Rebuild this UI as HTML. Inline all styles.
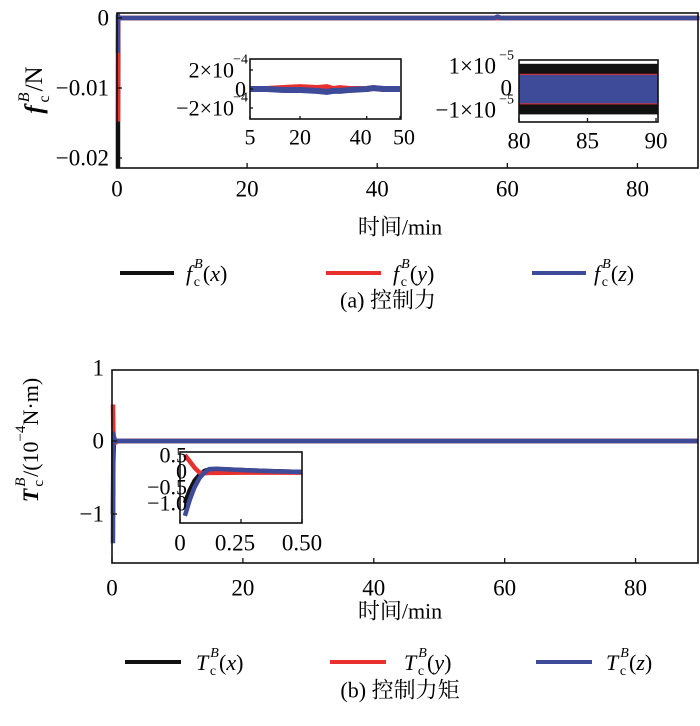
<!DOCTYPE html>
<html><head><meta charset="utf-8"><style>
html,body{margin:0;padding:0;background:#fff}
svg{display:block;font-family:"Liberation Serif","Noto Serif CJK SC",serif}
</style></head><body>
<svg id="c" width="700" height="726" viewBox="0 0 700 726" xmlns="http://www.w3.org/2000/svg"></svg>
<script>
// ---- data ----
const topMainT = [0.15, 0.15, 0.2, 1, 20, 40, 58, 58.5, 59, 70, 89.5];
const topMainX = [-0.0215, -0.015, 0, 0, 0, 0, 0, 0, 0, 0, 0];
const topMainY = [-0.0148, -0.005, 0, 0, 0, 0, 0, 0, 0, 0, 0];
const topMainZ = [-0.005, 0.0004, 0, 0, 0, 0, 0, 0.0002, 0, 0, 0];
const inset1T = [5, 10, 15, 20, 25, 28, 30, 32, 35, 40, 42, 45, 50];
const inset1Y = [0, 0, 0.00001, 0.00002, 0.00001, 0.00002, 0, 0.00001, 0, 0, 0.00001, 0, 0];
const inset1Z = [0, 0, -0.00001, -0.00001, -0.00002, -0.00003, -0.00002, -0.00002, -0.00001, 0, 0.00001, 0, 0];
const inset2BlackHi = 0.000011, inset2BlackLo = -0.000012;
const inset2BlueHi = 0.000006, inset2BlueLo = -0.000007;
const botMainT = [0.15, 0.2, 0.3, 0.5, 1, 10, 50, 89.5];
const botMainX = [-1.0, -0.3, 0.05, 0, 0, 0, 0, 0];
const botMainY = [0.5, 0.15, -0.05, -0.02, 0, 0, 0, 0];
const botMainZ = [-1.4, 0.1, 0.05, 0, 0, 0, 0, 0];
const insT = [0.02, 0.04, 0.06, 0.08, 0.1, 0.12, 0.15, 0.25, 0.35, 0.5];
const insX = [-1.0, -0.6, -0.3, -0.12, 0.0, 0.05, 0.06, 0.03, 0.0, -0.03];
const insY = [0.5, 0.3, 0.1, -0.05, -0.07, -0.06, -0.06, -0.05, -0.05, -0.05];
const insZ = [-1.4, -0.9, -0.5, -0.22, -0.05, 0.06, 0.07, 0.03, 0.0, -0.03];
const topTicksX = [0, 20, 40, 60, 80];
const topTicksY = [0, -0.01, -0.02];
const topTickLabelsY = ["0", "\u22120.01", "\u22120.02"];
const botTicksY = [1, 0, -1];
const botTickLabelsY = ["1", "0", "\u22121"];
const ins1TicksX = [5, 20, 40, 50];
const ins2TicksX = [80, 85, 90];
const insBTicksX = [0, 0.25, 0.5];
const insBTickLabels = ["0", "0.25", "0.50"];
const insBTicksY = [0.5, 0, -0.5, -1.0];
const insBTickLabelsY = ["0.5", "0", "\u22120.5", "\u22121.0"];
const BLACK = "#111", RED = "#e8312f", BLUE = "#3d4b99";

const svg = document.getElementById('c');
const NS = "http://www.w3.org/2000/svg";
function el(tag, attrs, parent) {
  const e = document.createElementNS(NS, tag);
  for (const k in attrs) e.setAttribute(k, attrs[k]);
  (parent || svg).appendChild(e);
  return e;
}
function scale(d0, d1, r0, r1) { return v => r0 + (v - d0) / (d1 - d0) * (r1 - r0); }
function line(xs, ys, sx, sy, color, w, name) {
  const p = xs.map((t, i) => sx(t).toFixed(2) + "," + sy(ys[i]).toFixed(2)).join(" ");
  const e = el("polyline", {points: p, fill: "none", stroke: color, "stroke-width": w, "stroke-linejoin": "round"});
  
  
  return e;
}
function text(x, y, s, size, anchor, name, extra) {
  const t = el("text", Object.assign({x: x, y: y, "font-size": size, "text-anchor": anchor || "middle", "dominant-baseline": "central"}, extra || {}));
  t.textContent = s;
  
  
  return t;
}
function box(x0, y0, x1, y1, name) {
  const r = el("rect", {x: x0, y: y0, width: x1 - x0, height: y1 - y0, fill: "none", stroke: "#111", "stroke-width": 1.6});
  
  
}
function tickX(x, y, len) { el("line", {x1: x, x2: x, y1: y, y2: y - len, stroke: "#111", "stroke-width": 1.3}); }
function tickY(x, y, len) { el("line", {x1: x, x2: x + len, y1: y, y2: y, stroke: "#111", "stroke-width": 1.3}); }

// ===== TOP MAIN =====
const tx = scale(0, 90, 117, 702.5), ty = scale(0, -0.01, 18, 88);
line(topMainT, topMainX, tx, ty, BLACK, 4.5, "force-x-line");
line(topMainT, topMainY, tx, ty, RED, 4.5, "force-y-line");
line(topMainT, topMainZ, tx, ty, BLUE, 4.5, "force-z-line");
box(117, 13, 698, 168, "force-plot-frame");
topTicksX.forEach(v => { tickX(tx(v), 168, 5); text(tx(v), 189, String(v), 23, "middle", "x-tick-label"); });
topTicksY.forEach((v, i) => { tickY(117, ty(v), 5); text(109, ty(v), topTickLabelsY[i], 23, "end", "y-tick-label"); });
text(400, 227, "时间/min", 22, "middle", "x-axis-title");
const yt1 = el("text", {transform: "translate(34,90) rotate(-90)", "font-size": 25, "text-anchor": "middle", "dominant-baseline": "central"});


yt1.innerHTML = '<tspan font-style="italic" font-weight="bold">f</tspan><tspan font-size="16" dx="3" dy="-10" font-style="italic">B</tspan><tspan font-size="16" dx="-10" dy="20">c</tspan><tspan dx="4" dy="-10">/N</tspan>';

// inset 1
const i1x = scale(5, 50, 250, 400), i1y = scale(0, 0.0002, 89, 70);
line(inset1T, inset1Y, i1x, i1y, RED, 6, "inset1-y-line");
line(inset1T, inset1Z, i1x, i1y, BLUE, 6, "inset1-z-line");
box(250, 59, 401, 119, "inset1-frame");
ins1TicksX.forEach(v => { tickX(i1x(v), 119, 3); text(i1x(v) + (v === 40 ? -6 : v === 50 ? 4 : 0), 137, String(v), 22, "middle", "inset1-x-tick"); });
[[0.0002, "2×10"], [0, "0"], [-0.0002, "\u22122×10"]].forEach(a => {
  tickY(250, i1y(a[0]), 3);
  text(a[1] === "0" ? 246 : 234, i1y(a[0]), a[1], 22, "end", "inset1-y-tick");
  if (a[1] !== "0") text(248, i1y(a[0]) - 10, "\u22124", 14, "end", "inset1-y-exp");
});
// inset 2
const i2x = scale(80, 90, 519, 656), i2y = scale(0, 0.00001, 88, 66);
const bk = el("rect", {x: i2x(80), y: i2y(inset2BlackHi), width: i2x(90) - i2x(80) + 2, height: i2y(inset2BlackLo) - i2y(inset2BlackHi), fill: BLACK});
 
const rd = el("rect", {x: i2x(80), y: i2y(inset2BlueHi) - 1, width: i2x(90) - i2x(80) + 2, height: i2y(inset2BlueLo) - i2y(inset2BlueHi) + 2, fill: RED});
 
const bl = el("rect", {x: i2x(80), y: i2y(inset2BlueHi), width: i2x(90) - i2x(80) + 2, height: i2y(inset2BlueLo) - i2y(inset2BlueHi), fill: BLUE});
 
box(519, 60, 658, 122, "inset2-frame");
ins2TicksX.forEach(v => { tickX(i2x(v), 122, 4); text(i2x(v), 141, String(v), 23, "middle", "inset2-x-tick"); });
[[0.00001, "1×10"], [0, "0"], [-0.00001, "\u22121×10"]].forEach(a => {
  const y = i2y(a[0]);
  text(a[1] === "0" ? 512 : 496, y, a[1], 23, "end", "inset2-y-tick");
  if (a[1] !== "0") text(514, y - 10, "\u22125", 14, "end", "inset2-y-exp");
});

// legends
function legend(x0, x1, lx, y, color, sym, arg, name) {
  const l = el("line", {x1: x0, x2: x1, y1: y, y2: y, stroke: color, "stroke-width": 4});
   
  const t = el("text", {x: lx, y: y, "font-size": 22, "dominant-baseline": "central"});
   
  t.innerHTML = '<tspan font-style="italic">' + sym + '</tspan><tspan font-size="14" dx="2" dy="-9" font-style="italic">B</tspan><tspan font-size="14" dx="-9" dy="18">c</tspan><tspan dx="3" dy="-9">(</tspan><tspan font-style="italic">' + arg + '</tspan><tspan>)</tspan>';
}
legend(120, 174, 186, 273, BLACK, "f", "x", "legend-fx");
legend(326, 381, 393, 273, RED, "f", "y", "legend-fy");
legend(532, 586, 594, 273, BLUE, "f", "z", "legend-fz");
text(388, 300, "(a) 控制力", 22, "middle", "caption-a");

// ===== BOTTOM MAIN =====
const bx = scale(0, 90, 112, 701), by = scale(0, 1, 441, 368);
line(botMainT, botMainX, bx, by, BLACK, 4.5, "torque-x-line");
line(botMainT, botMainY, bx, by, RED, 4.5, "torque-y-line");
line(botMainT, botMainZ, bx, by, BLUE, 4.5, "torque-z-line");
box(112, 370, 698, 563, "torque-plot-frame");
topTicksX.forEach(v => { tickX(bx(v), 563, 5); text(bx(v), 588, String(v), 23, "middle", "x-tick-label-b"); });
botTicksY.forEach((v, i) => { if (v !== 1) tickY(112, by(v), 5); text(104, by(v), botTickLabelsY[i], 23, "end", "y-tick-label-b"); });
text(400, 611, "时间/min", 22, "middle", "x-axis-title-b");
const yt2 = el("text", {transform: "translate(30,440) rotate(-90)", "font-size": 22, "text-anchor": "middle", "dominant-baseline": "central"});


yt2.innerHTML = '<tspan font-style="italic" font-weight="bold">T</tspan><tspan font-size="15" dx="2" dy="-9" font-style="italic">B</tspan><tspan font-size="15" dx="-9" dy="18">c</tspan><tspan dx="3" dy="-9">/(10</tspan><tspan font-size="15" dy="-9">\u22124</tspan><tspan dy="9">N·m)</tspan>';

// inset bottom
const ibx = scale(0, 0.5, 180, 302), iby = scale(0, 0.5, 471, 455);
const ibClip = el("clipPath", {id: "ibc"});
el("rect", {x: 180, y: 452, width: 122, height: 71}, ibClip);
const ig = el("g", {"clip-path": "url(#ibc)"});
[[insX, BLACK, "inset-b-x-line"], [insY, RED, "inset-b-y-line"], [insZ, BLUE, "inset-b-z-line"]].forEach(a => {
  const p = insT.map((t, i) => ibx(t).toFixed(2) + "," + iby(a[0][i]).toFixed(2)).join(" ");
  const e = el("polyline", {points: p, fill: "none", stroke: a[1], "stroke-width": 4.5}, ig);
  
  
});
box(180, 452, 302, 523, "inset-b-frame");
insBTicksX.forEach((v, i) => { tickX(ibx(v), 523, 4); text(ibx(v) - (i === 1 ? 6 : 0), 543, insBTickLabels[i], 23, "middle", "inset-b-x-tick"); });
insBTicksY.forEach((v, i) => { text(187, iby(v), insBTickLabelsY[i], 22, "end", "inset-b-y-tick"); });

legend(125, 181, 196, 662, BLACK, "T", "x", "legend-tx");
legend(330, 386, 404, 662, RED, "T", "y", "legend-ty");
legend(536, 592, 606, 662, BLUE, "T", "z", "legend-tz");
text(400, 690, "(b) 控制力矩", 22, "middle", "caption-b");
</script>
</body></html>
